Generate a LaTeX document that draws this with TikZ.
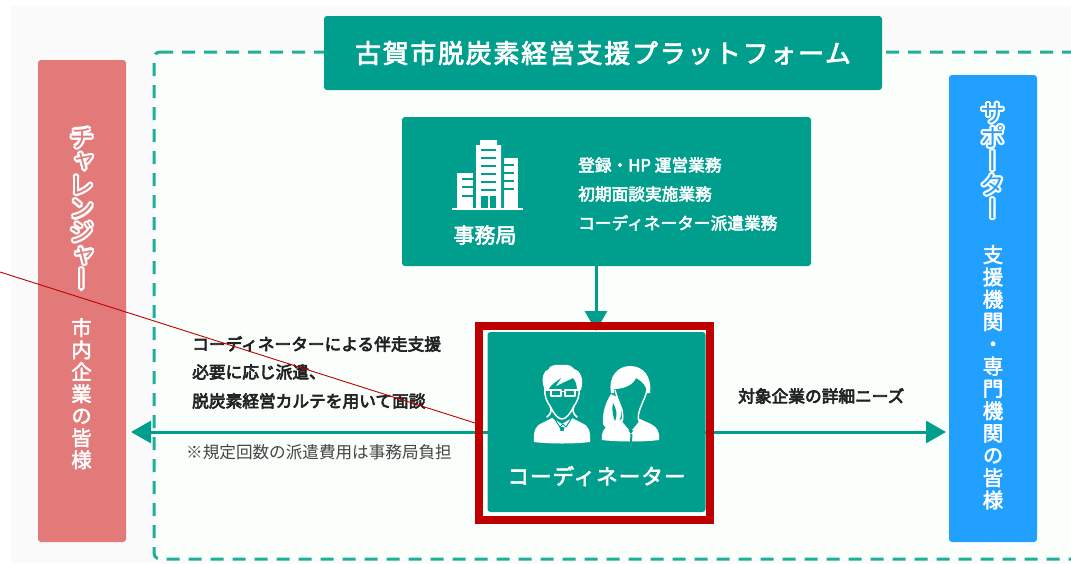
\documentclass[tikz,border=0pt]{standalone}
\usepackage{fontspec}
\usetikzlibrary{arrows.meta}
\setmainfont{Noto Sans CJK JP}
\newfontfamily\jpm[FakeBold=3]{Noto Sans CJK JP}
\newfontfamily\jpk[FakeBold=4]{Noto Sans CJK JP}
\newfontfamily\jpt[FakeBold=3,LetterSpace=6.5]{Noto Sans CJK JP}
\newfontfamily\jpc[FakeBold=3,LetterSpace=5]{Noto Sans CJK JP}
\newfontfamily\jpv[RawFeature={+vert},FakeBold=2.5]{Noto Sans CJK JP}
\newfontfamily\jpvin[RawFeature={+vert}]{Noto Sans CJK JP}
\definecolor{teal1}{HTML}{009E8C}
\definecolor{dash1}{HTML}{1FAE98}
\definecolor{bgout}{HTML}{FAFAFA}
\definecolor{bgin}{HTML}{FBFFFB}
\definecolor{pink1}{HTML}{E37A7A}
\definecolor{blue1}{HTML}{22A0FF}
\definecolor{red1}{HTML}{BE0000}
\definecolor{gray1}{HTML}{444444}
\definecolor{dark1}{HTML}{222222}
\newcommand{\sz}[2]{\fontsize{#1}{#2}\selectfont}
\newcommand{\chall}{チ\\ャ\\レ\\ン\\ジ\\ャ\\ー}
\newcommand{\supp}{サ\\ポ\\ー\\タ\\ー}
\tikzset{
  box/.style={fill=teal1,rounded corners=3pt,inner sep=0pt,text=white},
  bar/.style={rounded corners=3pt},
  conn/.style={draw=teal1,line width=3pt,-{Triangle[length=20pt,width=22pt,fill=teal1]}},
  wtext/.style={text=white,inner sep=0pt,font=\jpm\sz{16.7}{20}},
  ktext/.style={text=dark1,inner sep=0pt,anchor=west,font=\jpk\sz{16.7}{20}},
  vlab/.style={text=white,inner sep=0pt,anchor=north,align=center},
  vout/.style={inner sep=0pt,anchor=north,align=center},
  iconf/.style={fill=white,draw=none},
  iconl/.style={draw=white,line width=1.5pt,fill=none,line join=round,line cap=round},
  icont/.style={fill=teal1,draw=none}
}
\begin{document}
\begin{tikzpicture}[x=1pt,y=-1pt,line join=round]
\useasboundingbox (0,0) rectangle (1071,563);
\clip (0,0) rectangle (1071,563);
\fill[white] (0,0) rectangle (1071,563);
\fill[bgout] (11,6) rectangle (1071,563);
\draw[dash1,fill=bgin,line width=3pt,rounded corners=6pt,dash pattern=on 13pt off 9pt] (154,52) -- (1085,52) -- (1085,559) -- (154,559) -- cycle;
% bars
\node[bar,fill=pink1,minimum width=88pt,minimum height=482pt,inner sep=0pt] (chal) at (82,301) {};
\node[bar,fill=blue1,minimum width=88pt,minimum height=467pt,inner sep=0pt] (supb) at (993,308.5) {};
% outlined headings: white copies round the centre, coloured letter on top
\foreach \a in {0,30,...,330} {
  \node[vout,text=white,font=\jpvin\sz{25}{23.6},shift={(\a:2.3pt)}] (chalo\a) at (82,128) {\chall};
  \node[vout,text=white,font=\jpvin\sz{25}{24},shift={(\a:2.3pt)}] (suppo\a) at (993,103) {\supp};
}
\node[vout,text=pink1,font=\jpvin\sz{25}{23.6}] (chalt) at (82,128) {\chall};
\node[vout,text=blue1,font=\jpvin\sz{25}{24}] (suppt) at (993,103) {\supp};
\node[vlab,font=\jpv\sz{20.5}{22}] (chals) at (81.5,318) {市\\内\\企\\業\\の\\皆\\様};
\node[vlab,font=\jpv\sz{20.5}{22.3}] (supps) at (993,245) {支\\援\\機\\関\\・\\専\\門\\機\\関\\の\\皆\\様};
% title
\node[box,minimum width=558pt,minimum height=74pt,font=\jpt\sz{26}{30},text=white] (title) at (603,53) {古賀市脱炭素経営支援プラットフォーム};
% office
\node[box,minimum width=409pt,minimum height=149pt] (office) at (606.5,191.5) {};
\begin{scope}
 \fill[iconf] (452,207.7) rectangle (523,210.3);
 \fill[iconf] (476,208) -- (476,145) -- (480,145) -- (480,140) -- (497,140) -- (497,145) -- (501,145) -- (501,208) -- cycle;
 \fill[iconf] (504,208) -- (504,158) -- (518,158) -- (518,208) -- cycle;
 \fill[iconf] (457,208) -- (457,173) -- (473,173) -- (473,208) -- cycle;
 \foreach \y in {149,157,165,173,181,189} \fill[icont] (481,\y) rectangle (496,\y+2.2);
 \fill[icont] (481,196) rectangle (496,208);
 \fill[iconf] (488,196) rectangle (489.6,208);
 \foreach \y in {164,172,180,188} \fill[icont] (504,\y) rectangle (514,\y+2);
 \foreach \y in {178,186,195} \fill[icont] (462,\y) rectangle (473,\y+2);
\end{scope}
\node[wtext,font=\jpm\sz{21}{24}] (jimu) at (485,235) {事務局};
\node[wtext,anchor=west] (t1) at (578,165) {登録・HP 運営業務};
\node[wtext,anchor=west] (t2) at (578,194) {初期面談実施業務};
\node[wtext,anchor=west] (t3) at (578,223) {コーディネーター派遣業務};
% coordinator
\coordinate (lefttip) at (131,432);
\coordinate (righttip) at (946,432);
\coordinate (ctop) at (596,331);
\coordinate (cl) at (490,432);
\coordinate (cr) at (703,432);
\node[fill=white,draw=none,minimum width=231pt,minimum height=194pt,inner sep=0pt] (redfill) at (594.5,423) {};
\draw[conn] (office.south -| ctop) -- (ctop);
\draw[conn] (cl) -- (lefttip);
\draw[conn] (cr) -- (righttip);
\node[draw=red1,line width=8pt,line join=miter,minimum width=231pt,minimum height=194pt,inner sep=0pt] (redbox) at (594.5,423) {};
\node[box,minimum width=218pt,minimum height=180pt] (coord) at (596.5,422) {};
% man
\fill[iconf] (534,442) .. controls (533,431) and (536,425) .. (542,423) -- (552,418) -- (562,424) -- (572,418) -- (582,423) .. controls (588,425) and (591,431) .. (590,442) .. controls (575,444) and (549,444) .. (534,442) -- cycle;
\draw[draw=teal1,line width=1pt] (552.5,416) -- (560,427) -- (563,424) -- (566,427) -- (573,416);
\fill[icont] (559.5,427) -- (564.5,427) -- (563.5,431) -- (560.5,431) -- cycle;
\draw[iconl] (545,388) .. controls (544,396) and (547,402) .. (550,406) .. controls (552,410) and (551,414) .. (547,417);
\draw[iconl] (579,388) .. controls (580,396) and (577,402) .. (574,406) .. controls (572,410) and (573,414) .. (577,417);
\draw[iconl] (550,406) .. controls (554,414) and (558,419) .. (562,419) .. controls (566,419) and (570,414) .. (574,406);
\fill[iconf] (544,388) .. controls (541,378) and (543,371) .. (549,369) .. controls (548,366) and (556,364) .. (562,365) .. controls (568,364) and (572,366) .. (574,369) .. controls (581,371) and (584,379) .. (581,390) -- (577,390) .. controls (577,384) and (575,380) .. (573,378) -- (556,386) -- (562,377) .. controls (556,382) and (551,384) .. (548,390) -- (545,390) -- cycle;
\draw[draw=white,line width=1.4pt] (551,390) rectangle (561,396) (565,390) rectangle (575,396) (561,391.5) -- (565,391.5) (545,390) -- (551,390) (575,390) -- (579,390);
% woman
\fill[iconf] (602,440) .. controls (601,432) and (604,428) .. (609,425) -- (622,419) -- (640,419) -- (651,424) .. controls (657,427) and (660,432) .. (659,440) .. controls (645,442) and (617,442) .. (602,440) -- cycle;
\fill[iconf] (611,394) .. controls (606,402) and (602,412) .. (603,424) .. controls (604,430) and (612,428) .. (620,419) .. controls (623,412) and (621,404) .. (617,397) -- cycle;
\fill[icont] (613,403) .. controls (616,408) and (618,414) .. (615,421) .. controls (612,414) and (612,408) .. (613,403) -- cycle;
\fill[icont] (615,390) .. controls (617,398) and (620,404) .. (622,410) .. controls (623,416) and (623,419) .. (622,421) -- (631,434) -- (639,421) .. controls (638,418) and (638,414) .. (640,409) .. controls (642,403) and (646,396) .. (647,390) -- cycle;
\draw[iconl] (615,390) .. controls (617,398) and (620,404) .. (622,410) .. controls (623,416) and (623,419) .. (622,421);
\draw[iconl] (647,390) .. controls (646,396) and (642,403) .. (640,409) .. controls (638,414) and (638,418) .. (639,421);
\fill[iconf] (623,423) -- (629,430) -- (622,431) -- cycle;
\fill[iconf] (638,423) -- (632,430) -- (639,431) -- cycle;
\fill[iconf] (611,393) .. controls (608,376) and (618,366) .. (630,366) .. controls (643,366) and (652,376) .. (650,393) -- (647,393) .. controls (647,386) and (642,381) .. (636,378) .. controls (633,385) and (624,389) .. (614,389) -- (614,393) -- cycle;
\fill[icont] (630.5,434) -- (632.5,434) -- (632,442) -- (630,442) -- cycle;
\node[wtext,font=\jpc\sz{21.5}{26}] (cname) at (596.5,476) {コーディネーター};
% labels
\node[ktext] (l1) at (192,344) {コーディネーターによる伴走支援};
\node[ktext] (l2) at (192,372) {必要に応じ派遣、};
\node[ktext] (l3) at (192,401) {脱炭素経営カルテを用いて面談};
\node[ktext,font=\sz{16.6}{20},text=gray1] (l4) at (186,452) {※規定回数の派遣費用は事務局負担};
\node[ktext] (r1) at (738,396) {対象企業の詳細ニーズ};
% thin red line
\coordinate (redfree) at (0,272);
\draw[red1,line width=0.9pt] (redfree) -- (redbox.west);
\end{tikzpicture}
\end{document}
